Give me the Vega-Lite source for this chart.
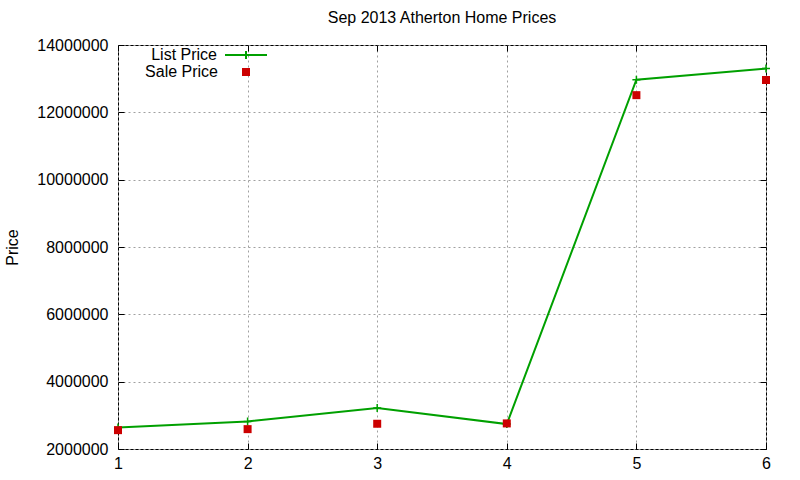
{
  "$schema": "https://vega.github.io/schema/vega-lite/v6.json",
  "width": 648,
  "height": 404,
  "autosize": {"type": "none"},
  "padding": {"left": 118, "top": 45, "right": 34, "bottom": 31},
  "background": "white",
  "title": {"text": "Sep 2013 Atherton Home Prices", "fontSize": 16, "font": "Liberation Sans", "fontWeight": "normal", "color": "black", "anchor": "middle", "offset": 7},
  "config": {
    "view": {"stroke": "black", "strokeWidth": 1},
    "font": "Liberation Sans",
    "axis": {
      "labelFont": "Liberation Sans",
      "labelFontSize": 16,
      "labelColor": "black",
      "labelFlush": false,
      "domain": false,
      "tickColor": "black",
      "tickWidth": 1,
      "gridColor": "#a0a0a0",
      "gridDash": [2, 3],
      "gridWidth": 1,
      "gridOpacity": 1
    },
    "legend": {"labelFont": "Liberation Sans", "labelFontSize": 16, "labelColor": "black", "labelAlign": "right", "padding": 0, "orient": "none"}
  },
  "data": {
    "values": [
      {"n": 1, "series": "List Price", "price": 2640000},
      {"n": 2, "series": "List Price", "price": 2820000},
      {"n": 3, "series": "List Price", "price": 3220000},
      {"n": 4, "series": "List Price", "price": 2740000},
      {"n": 5, "series": "List Price", "price": 12970000},
      {"n": 6, "series": "List Price", "price": 13300000},
      {"n": 1, "series": "Sale Price", "price": 2560000},
      {"n": 2, "series": "Sale Price", "price": 2590000},
      {"n": 3, "series": "Sale Price", "price": 2750000},
      {"n": 4, "series": "Sale Price", "price": 2760000},
      {"n": 5, "series": "Sale Price", "price": 12510000},
      {"n": 6, "series": "Sale Price", "price": 12960000}
    ]
  },
  "resolve": {"axis": {"x": "independent", "y": "independent"}},
  "layer": [
    {
      "transform": [{"filter": "datum.series === 'List Price'"}],
      "mark": {"type": "line", "strokeWidth": 2},
      "encoding": {
        "x": {"field": "n", "type": "quantitative", "scale": {"domain": [1, 6], "nice": false, "zero": false},
          "axis": {"orient": "bottom", "title": null, "values": [1, 2, 3, 4, 5, 6], "format": "d", "tickSize": -6, "labelPadding": 12, "grid": true}},
        "y": {"field": "price", "type": "quantitative", "scale": {"domain": [2000000, 14000000], "nice": false, "zero": false},
          "axis": {"orient": "left", "title": "Price", "titleFont": "Liberation Sans", "titleFontSize": 16, "titleFontWeight": "normal", "titleColor": "black",
            "titleAngle": -90, "titleX": -106, "titleY": 202, "titleAlign": "center", "titleBaseline": "middle",
            "values": [2000000, 4000000, 6000000, 8000000, 10000000, 12000000, 14000000], "format": "d", "tickSize": -6, "labelPadding": 16, "grid": true}},
        "stroke": {"field": "series", "type": "nominal",
          "scale": {"domain": ["List Price"], "range": ["#00a000"]},
          "legend": {"title": null, "legendX": 106, "legendY": -12, "labelOffset": -51,
            "symbolType": "M-1,0H1M0,-0.19V0.19", "symbolSize": 1764, "symbolStrokeWidth": 2, "symbolStrokeColor": "#00a000"}}
      }
    },
    {
      "transform": [{"filter": "datum.series === 'List Price'"}],
      "mark": {"type": "point", "shape": "M-1,0H1M0,-1V1", "size": 64, "filled": false, "strokeWidth": 1.5, "opacity": 1, "color": "#00a000"},
      "encoding": {
        "x": {"field": "n", "type": "quantitative",
          "axis": {"orient": "top", "title": null, "labels": false, "grid": false, "values": [1, 2, 3, 4, 5, 6], "tickSize": -6}},
        "y": {"field": "price", "type": "quantitative",
          "axis": {"orient": "right", "title": null, "labels": false, "grid": false, "values": [2000000, 4000000, 6000000, 8000000, 10000000, 12000000, 14000000], "tickSize": -6}}
      }
    },
    {
      "transform": [{"filter": "datum.series === 'Sale Price'"}],
      "mark": {"type": "point", "shape": "square", "size": 64, "filled": true, "opacity": 1},
      "encoding": {
        "x": {"field": "n", "type": "quantitative", "axis": null},
        "y": {"field": "price", "type": "quantitative", "axis": null},
        "fill": {"field": "series", "type": "nominal",
          "scale": {"domain": ["Sale Price"], "range": ["#cc0000"]},
          "legend": {"title": null, "legendX": 120, "legendY": 19, "labelOffset": -36,
            "symbolType": "square", "symbolSize": 64, "symbolStrokeWidth": 0, "symbolFillColor": "#cc0000", "symbolOpacity": 1}}
      }
    }
  ]
}
